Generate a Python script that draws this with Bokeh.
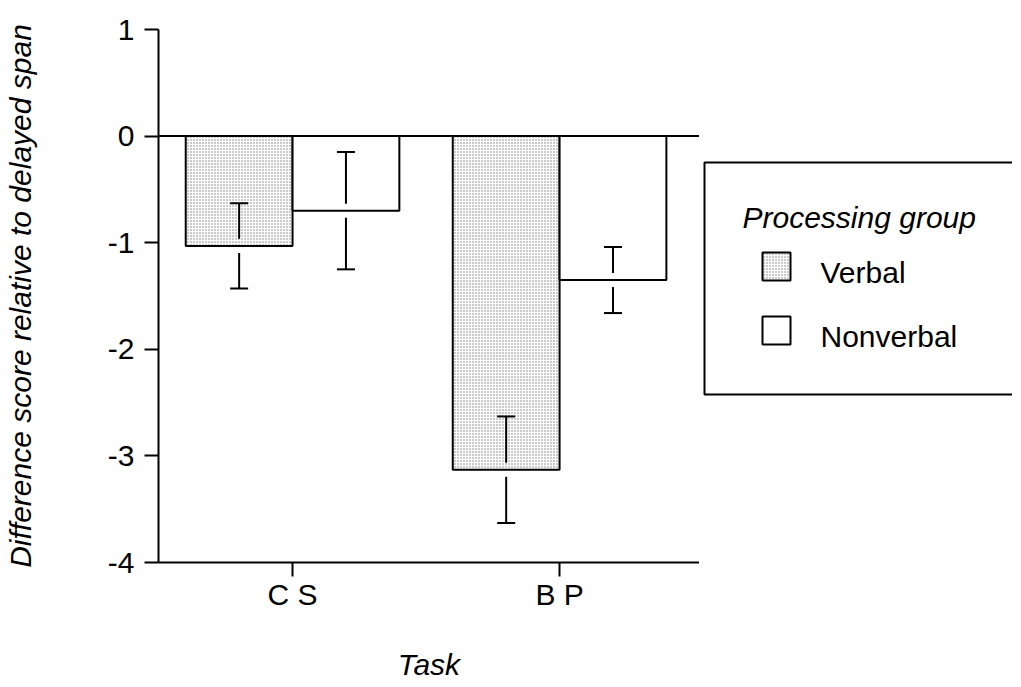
from bokeh.plotting import figure
from bokeh.models import Range1d, FixedTicker, Span
from bokeh.layouts import row
from bokeh.core.properties import value
from bokeh.embed import file_html
from bokeh.resources import INLINE

# ---- data ----
tasks = ["C S", "B P"]
verbal_mean = [-1.03, -3.13]
verbal_se = [0.40, 0.50]
nonverbal_mean = [-0.70, -1.35]
nonverbal_se = [0.55, 0.31]
y_ticks = [1, 0, -1, -2, -3, -4]
series_labels = ["Verbal", "Nonverbal"]
legend_title = "Processing group"
x_title = "Task"
y_title = "Difference score relative to delayed span"

FONT = "Liberation Sans"
FS = "30px"
HATCH = dict(hatch_pattern="dot", hatch_scale=3, hatch_weight=1, hatch_color="#7a7a7a")

# ---- layout (px) ----
MB_LEFT, MB_TOP, MB_BOTTOM = 158, 29, 121
FRAME_W, FRAME_H = 541, 533
LEG_W = 1012 - (MB_LEFT + FRAME_W)
OX = MB_LEFT + FRAME_W   # page x where legend panel starts

centers = [i + 1 for i in range(len(tasks))]
bar_w = 0.4
gap = 0.066

p = figure(title=None, frame_width=FRAME_W, frame_height=FRAME_H, output_backend="svg",
           toolbar_location=None,
           x_range=Range1d(0.498, 2.524), y_range=Range1d(-4, 1),
           min_border_left=MB_LEFT, min_border_top=MB_TOP, min_border_right=0,
           min_border_bottom=MB_BOTTOM)
p.background_fill_color = "white"
p.border_fill_color = "white"
p.outline_line_color = None
p.grid.visible = False

vx = [c - bar_w / 2 for c in centers]
nx = [c + bar_w / 2 for c in centers]

p.vbar(x=vx, width=bar_w, top=0, bottom=verbal_mean, fill_color="white",
       line_color="black", line_width=2, **HATCH)
p.vbar(x=nx, width=bar_w, top=0, bottom=nonverbal_mean, fill_color="white",
       line_color="black", line_width=2)

p.add_layout(Span(location=0, dimension="width", line_color="black", line_width=2))

for xs, m, se in ((vx, verbal_mean, verbal_se), (nx, nonverbal_mean, nonverbal_se)):
    up0 = [a + gap for a in m]
    up1 = [a + s for a, s in zip(m, se)]
    lo0 = [a - gap for a in m]
    lo1 = [a - s for a, s in zip(m, se)]
    p.segment(x0=xs, y0=up0, x1=xs, y1=up1, line_color="black", line_width=2)
    p.segment(x0=xs, y0=lo0, x1=xs, y1=lo1, line_color="black", line_width=2)
    p.scatter(x=xs + xs, y=up1 + lo1, marker="dash", size=18, line_color="black", line_width=2)

for ax in (p.xaxis[0], p.yaxis[0]):
    ax.axis_line_width = 2
    ax.axis_line_color = "black"
    ax.major_tick_line_width = 2
    ax.major_tick_line_color = "black"
    ax.major_tick_in = 0
    ax.major_tick_out = 14
    ax.minor_tick_line_color = None
    ax.major_label_text_font = FONT
    ax.major_label_text_font_size = FS
    ax.major_label_text_color = "black"
    ax.axis_label_text_font = FONT
    ax.axis_label_text_font_size = FS
    ax.axis_label_text_font_style = "italic"
    ax.axis_label_text_color = "black"

p.xaxis.ticker = FixedTicker(ticks=centers)
p.xaxis.major_label_overrides = {c: t for c, t in zip(centers, tasks)}
p.xaxis.major_label_standoff = 1
p.xaxis.axis_label = x_title
p.xaxis.axis_label_standoff = 34

p.yaxis.ticker = FixedTicker(ticks=y_ticks)
p.yaxis.major_label_overrides = {t: str(t) for t in y_ticks}
p.yaxis.major_label_standoff = 10
p.yaxis.axis_label = y_title
p.yaxis.axis_label_standoff = 68

# ---- legend panel (page pixel coordinates, y downward) ----
q = figure(title=None, frame_width=LEG_W, frame_height=FRAME_H, output_backend="svg",
           toolbar_location=None,
           x_range=Range1d(OX, OX + LEG_W), y_range=Range1d(MB_TOP + FRAME_H, MB_TOP),
           min_border_left=0, min_border_right=0, min_border_top=MB_TOP,
           min_border_bottom=MB_BOTTOM, x_axis_type=None, y_axis_type=None)
q.outline_line_color = None
q.grid.visible = False
q.background_fill_color = "white"
q.border_fill_color = "white"

BOX_L, BOX_T, BOX_B = 704, 162, 394
q.quad(left=[BOX_L], right=[OX + LEG_W + 40], top=[BOX_T], bottom=[BOX_B], fill_color=None,
       line_color="black", line_width=2)
q.text(x=[742], y=[217], text=[legend_title], text_font=value(FONT), text_font_size=FS,
       text_font_style="italic", text_baseline="alphabetic", text_color="black")
item_y = [266, 330]
sq = 28
SQ_L = 762
q.quad(left=[SQ_L], right=[SQ_L + sq], top=[item_y[0] - sq / 2], bottom=[item_y[0] + sq / 2],
       fill_color="white", line_color="black", line_width=2, **HATCH)
q.quad(left=[SQ_L], right=[SQ_L + sq], top=[item_y[1] - sq / 2], bottom=[item_y[1] + sq / 2],
       fill_color="white", line_color="black", line_width=2)
q.text(x=[820, 820], y=[y + 6 for y in item_y], text=series_labels, text_font=value(FONT),
       text_font_size=FS, text_baseline="alphabetic", text_color="black")

layout = row(p, q)
open("out.html", "w").write(file_html(layout, INLINE))
